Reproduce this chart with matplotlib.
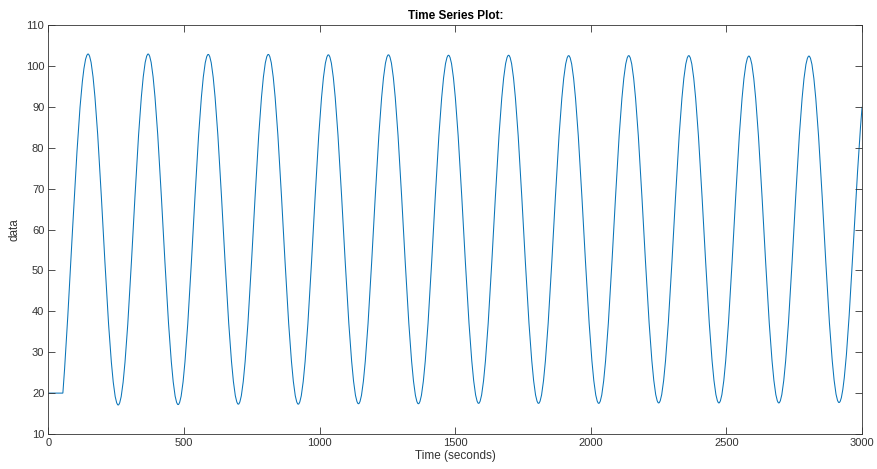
import numpy as np
import matplotlib
matplotlib.use('Agg')
from matplotlib import pyplot as plt
from matplotlib.path import Path
from matplotlib.patches import PathPatch

# values
flat_time = [0, 53]
flat_value = [20, 20]
start_slope = 0.9          # data units per second where the oscillation begins

peak_time = [146, 367.5, 589, 810.5, 1032, 1253.5, 1475, 1696.5, 1918, 2139.5, 2361, 2582.5, 2804]
peak_value = [102.9, 102.9, 102.8, 102.8, 102.7, 102.7, 102.6, 102.6, 102.5, 102.5, 102.5, 102.4, 102.4]
trough_time = [257, 478, 700, 921, 1143, 1364, 1586, 1807, 2029, 2250, 2472, 2693, 2915]
trough_value = [17.1, 17.2, 17.3, 17.3, 17.4, 17.4, 17.5, 17.5, 17.5, 17.6, 17.6, 17.6, 17.7]
end_time = 3000
end_value = 90
end_slope = 0.8

x_ticks = [0, 500, 1000, 1500, 2000, 2500, 3000]
y_ticks = [10, 20, 30, 40, 50, 60, 70, 80, 90, 100, 110]

LINE_COLOR = '#0a74b8'
AXIS_COLOR = '#333333'

plt.rcParams['font.family'] = ['Liberation Sans', 'DejaVu Sans']

# knots of the curve: start of rise, alternating extrema, end point
knot_t = [flat_time[-1]]
knot_v = [flat_value[-1]]
knot_s = [start_slope]
for pt, pv, tt, tv in zip(peak_time, peak_value, trough_time, trough_value):
    knot_t += [pt, tt]
    knot_v += [pv, tv]
    knot_s += [0, 0]
knot_t.append(end_time)
knot_v.append(end_value)
knot_s.append(end_slope)

verts = [(flat_time[0], flat_value[0]), (flat_time[1], flat_value[1])]
codes = [Path.MOVETO, Path.LINETO]
for i in range(len(knot_t) - 1):
    t0, v0, s0 = knot_t[i], knot_v[i], knot_s[i]
    t1, v1, s1 = knot_t[i + 1], knot_v[i + 1], knot_s[i + 1]
    h = 0.363 * (t1 - t0)
    verts += [(t0 + h, v0 + s0 * h), (t1 - h, v1 - s1 * h), (t1, v1)]
    codes += [Path.CURVE4] * 3

fig = plt.figure(figsize=(8.77, 4.69), dpi=100)
ax = fig.add_axes([0.0553, 0.0746, 0.9277, 0.8721])
ax.add_patch(PathPatch(Path(verts, codes), facecolor='none', edgecolor=LINE_COLOR, lw=0.75))

ax.set_xlim(0, 3000)
ax.set_ylim(10, 110)
ax.set_xticks(x_ticks)
ax.set_yticks(y_ticks)
ax.tick_params(direction='in', length=5, width=0.6, colors=AXIS_COLOR,
               labelsize=8, top=True, right=True, pad=3)
for side in ax.spines.values():
    side.set_color(AXIS_COLOR)
    side.set_linewidth(0.6)

ax.set_title('Time Series Plot:', fontsize=8.5, fontweight='bold', color='#000000', pad=4)
ax.set_xlabel('Time (seconds)', fontsize=8.5, color=AXIS_COLOR, labelpad=1)
ax.set_ylabel('data', fontsize=8.5, color=AXIS_COLOR, labelpad=4)

fig.savefig('out.png', dpi=100)
